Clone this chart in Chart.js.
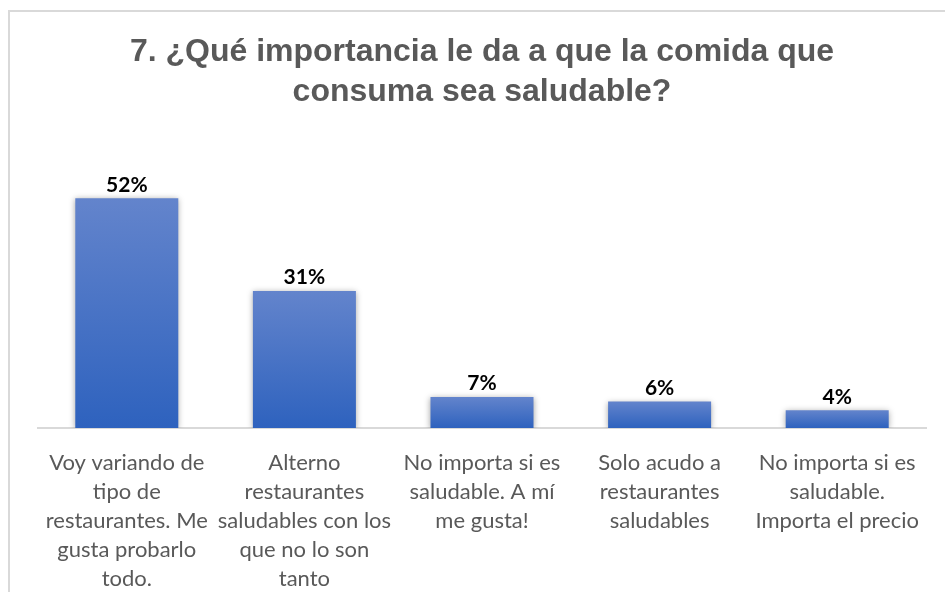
<!DOCTYPE html>
<html lang="es">
<head>
  <meta charset="UTF-8">
  <title>Importancia comida saludable</title>
  <script src="https://cdn.jsdelivr.net/npm/chart.js"></script>
  <style>
    * {
      box-sizing: border-box;
      margin: 0;
      padding: 0;
    }

    body {
      background: #ffffff;
      width: 945px;
      height: 592px;
      overflow: hidden;
      position: relative;
    }

    .frame {
      position: absolute;
      left: 8px;
      top: 10px;
      width: 950px;
      height: 590px;
      border: 2px solid #d9d9d9;
      background: #ffffff;
    }

    canvas {
      display: block;
    }
  </style>
</head>
<body>
  <div class="frame">
    <canvas id="chart" width="946" height="586"></canvas>
  </div>

  <script>
    const titleLines = ['7. ¿Qué importancia le da a que la comida que', 'consuma sea saludable?'];
    const categories = [
      ['Voy variando de', 'tipo de', 'restaurantes. Me', 'gusta probarlo', 'todo.'],
      ['Alterno', 'restaurantes', 'saludables con los', 'que no lo son', 'tanto'],
      ['No importa si es', 'saludable. A mí', 'me gusta!'],
      ['Solo acudo a', 'restaurantes', 'saludables'],
      ['No importa si es', 'saludable.', 'Importa el precio']
    ];
    const percentages = [52, 31, 7, 6, 4];

    // vertical gradient per bar, lighter at the top
    function barFill(context) {
      const chart = context.chart;
      if (!chart.chartArea) return '#4472c4';
      const y = chart.scales.y;
      const top = y.getPixelForValue(context.raw);
      const bottom = y.getPixelForValue(0);
      const g = chart.ctx.createLinearGradient(0, top, 0, bottom);
      g.addColorStop(0, '#6384cc');
      g.addColorStop(1, '#2e62be');
      return g;
    }

    // soft drop shadow behind the bars
    const barShadow = {
      id: 'barShadow',
      beforeDatasetDraw(chart) {
        const ctx = chart.ctx;
        ctx.save();
        ctx.shadowColor = 'rgba(0, 0, 0, 0.35)';
        ctx.shadowBlur = 6;
        ctx.shadowOffsetX = 0;
        ctx.shadowOffsetY = 1;
      },
      afterDatasetDraw(chart) {
        chart.ctx.restore();
      }
    };

    // percentage above each bar
    const valueLabels = {
      id: 'valueLabels',
      afterDatasetsDraw(chart) {
        const ctx = chart.ctx;
        const meta = chart.getDatasetMeta(0);
        ctx.save();
        ctx.font = 'bold 21px Lato, sans-serif';
        ctx.fillStyle = '#000000';
        ctx.textAlign = 'center';
        ctx.textBaseline = 'bottom';
        meta.data.forEach((bar, i) => {
          ctx.fillText(percentages[i] + '%', bar.x, bar.y - 3);
        });
        ctx.restore();
      }
    };

    new Chart(document.getElementById('chart'), {
      type: 'bar',
      data: {
        labels: categories,
        datasets: [{
          data: percentages,
          backgroundColor: barFill,
          borderWidth: 0,
          categoryPercentage: 1,
          barPercentage: 0.58
        }]
      },
      options: {
        responsive: false,
        animation: false,
        layout: {
          padding: { left: 28, right: 30, top: 0, bottom: 0 }
        },
        plugins: {
          legend: { display: false },
          tooltip: { enabled: false },
          title: {
            display: true,
            text: titleLines,
            color: '#595959',
            font: { family: '"Liberation Sans", Arial, sans-serif', size: 32, weight: 'bold', lineHeight: 1.25 },
            padding: { top: 20, bottom: 51 }
          }
        },
        scales: {
          y: {
            display: false,
            min: 0,
            max: 60
          },
          x: {
            afterFit(scale) {
              scale.height = 170;
            },
            grid: { display: false },
            border: { display: true, color: '#d9d9d9', width: 2 },
            ticks: {
              color: '#595959',
              maxRotation: 0,
              autoSkip: false,
              padding: 12,
              font: { family: 'Lato, sans-serif', size: 22, lineHeight: 1.32 }
            }
          }
        }
      },
      plugins: [barShadow, valueLabels]
    });
  </script>
</body>
</html>
